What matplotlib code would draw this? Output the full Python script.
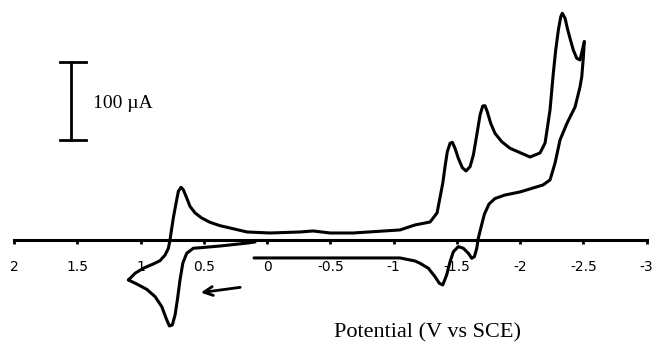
import numpy as np
import matplotlib
matplotlib.use("Agg")
import matplotlib.pyplot as plt

plt.rcParams['axes.unicode_minus'] = False

# Cyclic voltammogram: potential (V vs SCE), current (uA)
# start of scan, going positive from ~0.1 V to the anodic vertex
e_start = [0.095, 0.150, 0.372, 0.583, 0.635, 0.666, 0.688, 0.709, 0.727, 0.749,
           0.772, 0.798, 0.832, 0.885, 0.951, 1.030, 1.096]
i_start = [-1.9, -3.2, -7.1, -10.0, -16.4, -29.2, -50.6, -76.3, -95.5, -108.3,
           -109.6, -99.7, -84.9, -72.0, -62.6, -55.8, -50.6]

# forward (cathodic) sweep from vertex 1.1 V to -2.5 V
e_fwd = [1.096, 1.043, 0.978, 0.899, 0.846, 0.806, 0.780, 0.767, 0.761, 0.741,
         0.719, 0.701, 0.680, 0.662, 0.635, 0.609, 0.569, 0.516, 0.451, 0.372,
         0.293, 0.158, -0.024, -0.261, -0.364, -0.498, -0.680, -1.051, -1.170, -1.289,
         -1.344, -1.389, -1.407, -1.425, -1.447, -1.465, -1.486, -1.512, -1.544, -1.573,
         -1.605, -1.631, -1.658, -1.684, -1.705, -1.723, -1.741, -1.768, -1.802, -1.855,
         -1.921, -2.079, -2.158, -2.198, -2.237, -2.263, -2.282, -2.303, -2.322, -2.334,
         -2.356, -2.374, -2.395, -2.421, -2.448, -2.474, -2.508]
i_fwd = [-50.6, -42.0, -35.6, -30.1, -25.9, -18.6, -10.0, 0.6, 7.4, 28.8,
         48.1, 63.1, 68.2, 65.1, 54.5, 43.8, 35.3, 28.8, 23.3, 19.0,
         16.0, 10.9, 9.6, 10.9, 12.2, 9.6, 9.6, 13.5, 19.9, 23.7,
         35.3, 73.3, 94.6, 113.8, 124.6, 125.9, 118.2, 105.4, 93.3, 89.1,
         94.6, 109.6, 135.3, 160.9, 172.4, 172.8, 165.1, 150.3, 137.4, 126.7,
         118.2, 107.0, 112.2, 125.0, 167.3, 214.4, 244.2, 269.9, 286.9, 291.3,
         284.9, 272.0, 259.2, 244.2, 233.6, 231.4, 254.9]

# return sweep from -2.5 V back toward 0.1 V
e_rev = [-2.508, -2.500, -2.488, -2.474, -2.435, -2.372, -2.316, -2.277, -2.237, -2.182,
         -2.000, -1.881, -1.802, -1.755, -1.719, -1.700, -1.670, -1.658, -1.639, -1.618,
         -1.591, -1.552, -1.512, -1.473, -1.447, -1.420, -1.389, -1.362, -1.328, -1.275,
         -1.209, -1.170, -1.051, -0.996, 0.103]
i_rev = [254.9, 233.6, 210.0, 196.8, 171.1, 150.6, 128.8, 99.4, 77.6, 71.2,
         62.2, 58.3, 53.8, 46.8, 34.0, 22.4, 2.8, -10.0, -20.8, -22.8,
         -16.4, -10.0, -7.9, -14.4, -27.2, -44.2, -57.0, -54.9, -46.4, -35.6,
         -29.2, -26.3, -22.4, -22.4, -22.4]

tick_vals = [2, 1.5, 1, 0.5, 0, -0.5, -1, -1.5, -2, -2.5, -3]
tick_labels = ['2', '1.5', '1', '0.5', '0', '-0.5', '-1', '-1.5', '-2', '-2.5', '-3']

fig = plt.figure(figsize=(6.54, 3.45), dpi=100)
ax = fig.add_axes([0, 0, 1, 1])

lw = 2.2
for e, i in [(e_start, i_start), (e_fwd, i_fwd), (e_rev, i_rev)]:
    ax.plot(e, i, color='black', lw=lw, solid_capstyle='round', solid_joinstyle='round')

ax.set_xlim(2.111, -3.059)
ax.set_ylim(-134.0, 308.3)

# axis drawn through zero current
for s in ['top', 'right', 'left']:
    ax.spines[s].set_visible(False)
ax.spines['bottom'].set_position(('data', 0))
ax.spines['bottom'].set_bounds(-3, 2)
ax.spines['bottom'].set_linewidth(2.2)
ax.set_xticks(tick_vals)
ax.set_xticklabels(tick_labels, fontsize=10, family='DejaVu Sans')
ax.tick_params(axis='x', direction='out', length=3, width=2, pad=11)
ax.set_yticks([])

# scale bar 100 uA
ax.plot([1.549, 1.549], [128.8, 229.2], color='black', lw=2)
ax.plot([1.636, 1.431], [229.2, 229.2], color='black', lw=2)
ax.plot([1.636, 1.431], [128.8, 128.8], color='black', lw=2)
ax.text(1.375, 176, '100 \u00b5A', family='Liberation Serif', fontsize=14,
        ha='left', va='center')

# scan direction arrow
ax.annotate('', xy=(0.545, -67.3), xytext=(0.190, -59.6),
            arrowprops=dict(arrowstyle='->', color='black', lw=2, mutation_scale=16))

ax.text(-1.265, -118.6, 'Potential (V vs SCE)', family='Liberation Serif',
        fontsize=16, ha='center', va='center')

fig.savefig('out.png', dpi=100)
